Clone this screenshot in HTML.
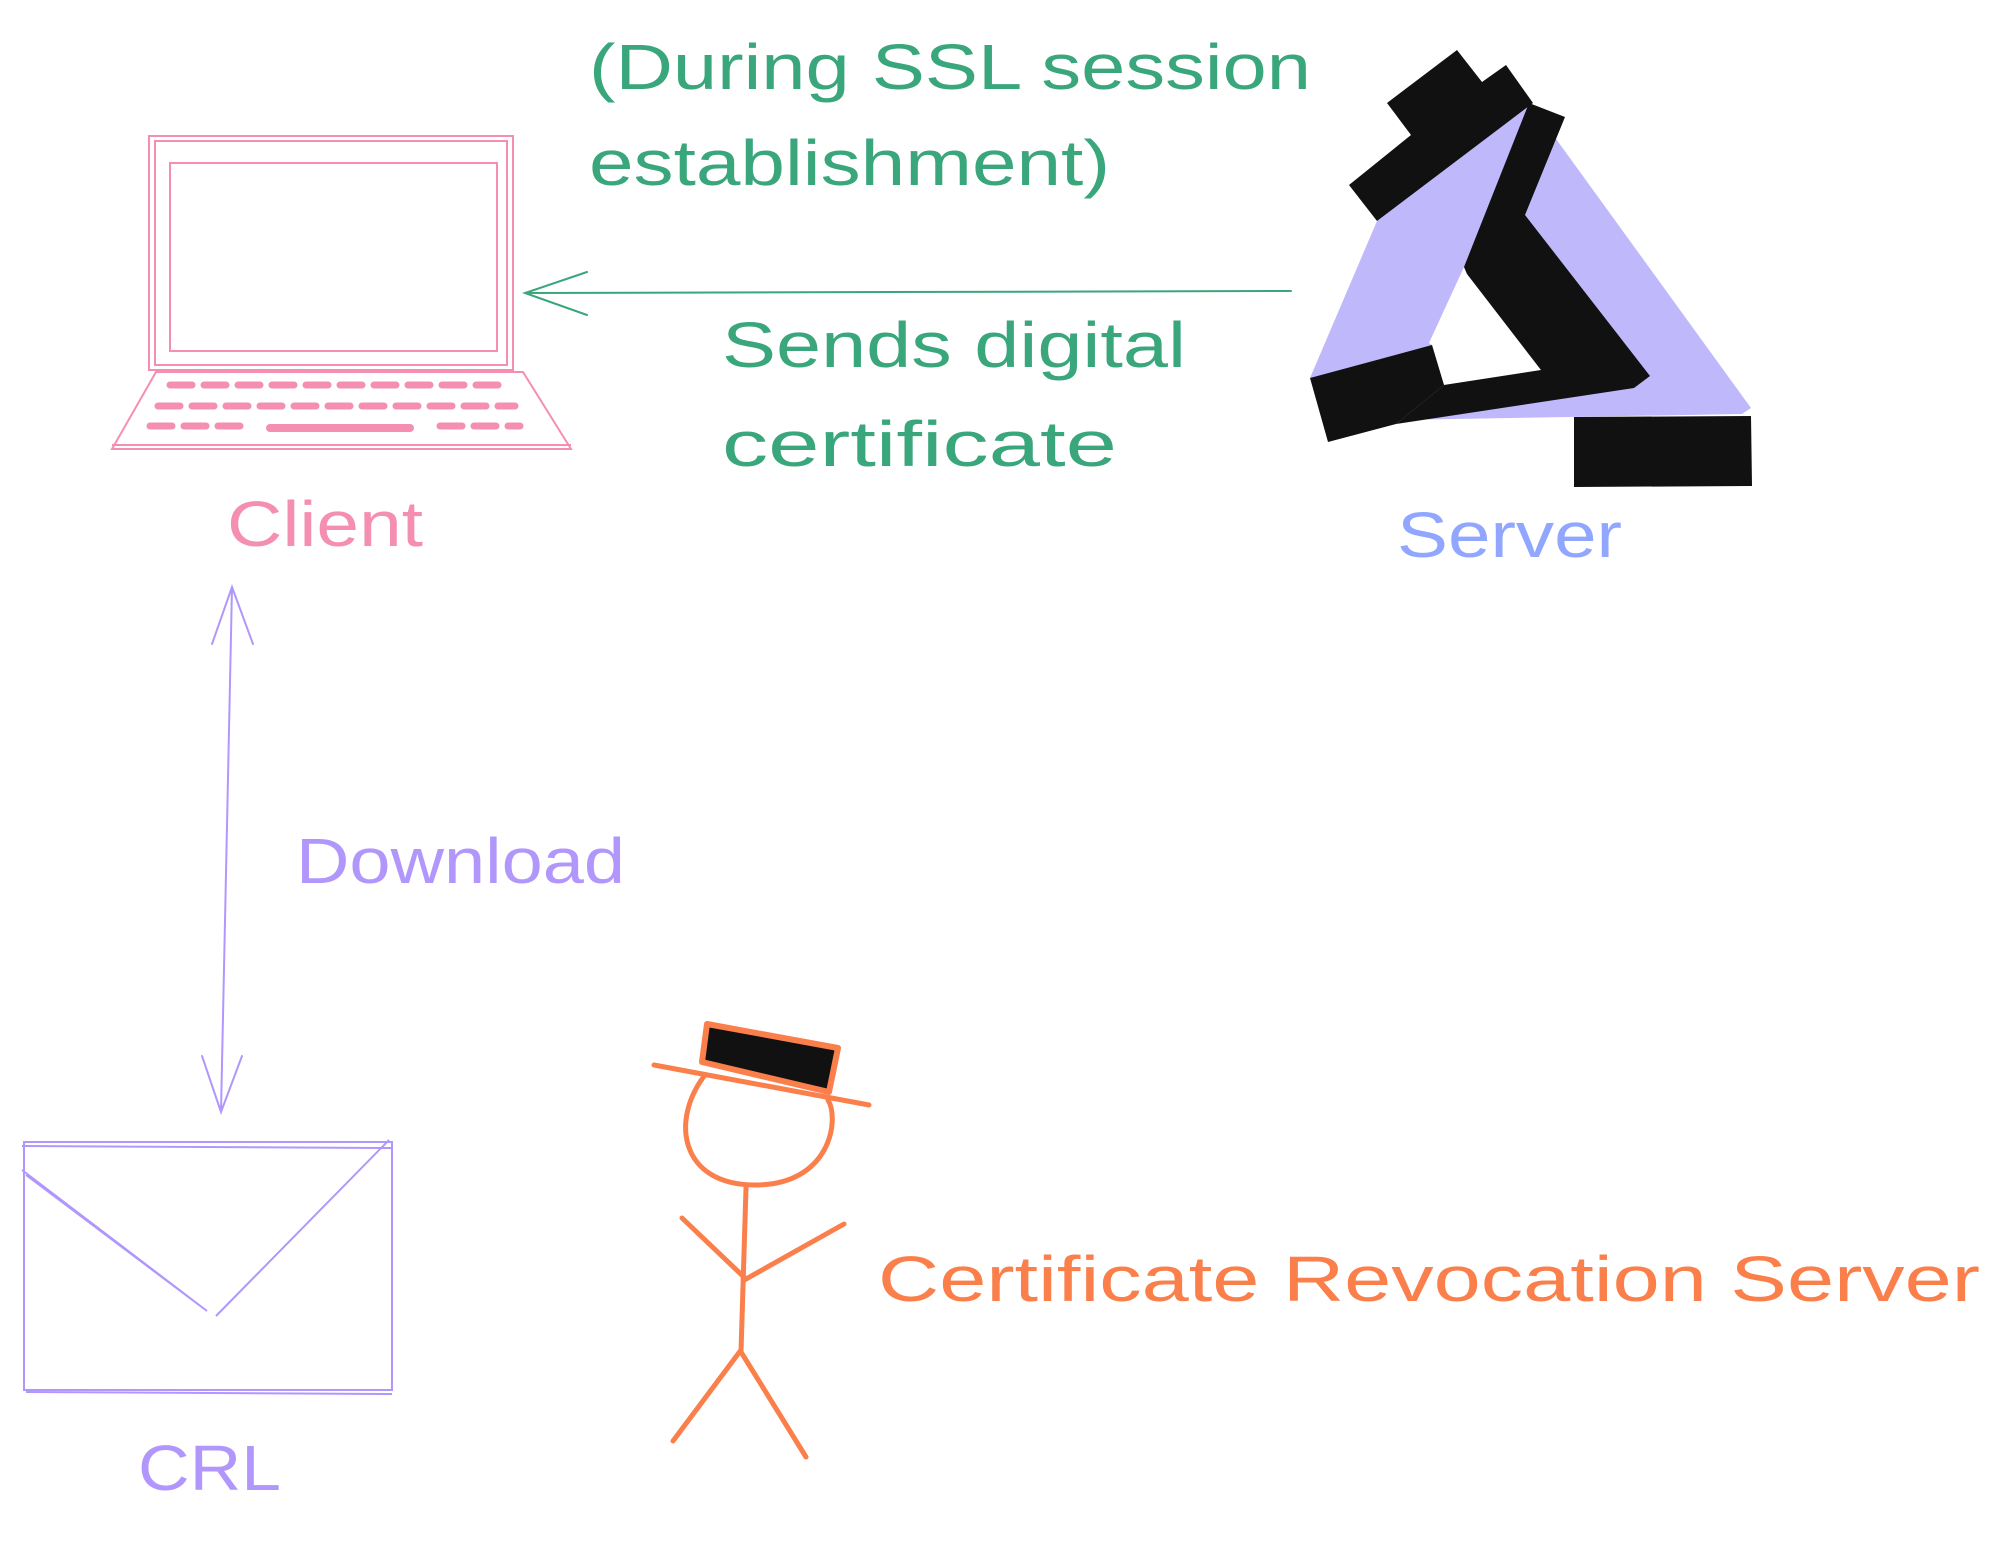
<!DOCTYPE html>
<html><head><meta charset="utf-8"><style>html,body{margin:0;padding:0;background:#fff}svg{display:block}text{font-family:"Liberation Sans",sans-serif;font-size:64px}</style></head>
<body>
<svg width="2000" height="1544" viewBox="0 0 2000 1544" xmlns="http://www.w3.org/2000/svg">
<rect width="2000" height="1544" fill="#fff"/>
<g fill="#3aa67b">
<text x="589" y="89" textLength="722" lengthAdjust="spacingAndGlyphs">(During SSL session</text>
<text x="589" y="185" textLength="521" lengthAdjust="spacingAndGlyphs">establishment)</text>
<text x="722" y="367" textLength="464" lengthAdjust="spacingAndGlyphs">Sends digital</text>
<text x="722" y="466" textLength="395" lengthAdjust="spacingAndGlyphs">certificate</text>
</g>
<g stroke="#3aa67b" stroke-width="2" fill="none" stroke-linecap="round">
<path d="M1291 291 L525 293 M587 272 L525 293 L587 315"/>
</g>
<g stroke="#f48fb1" stroke-width="2" fill="none">
<rect x="149" y="136" width="364" height="234"/>
<rect x="155" y="141" width="352" height="224"/>
<rect x="170" y="163" width="327" height="188"/>
<path d="M156 372 L523 372 L571 449 L112 449 Z"/>
<path d="M112 445 L571 445"/>
</g>
<g stroke="#f48fb1" stroke-width="7" stroke-linecap="round" stroke-dasharray="22 12">
<path d="M170 385 L500 385"/><path d="M158 406 L515 406"/><path d="M150 426 L245 426"/><path d="M440 426 L520 426"/>
</g>
<path d="M270 428 L410 428" stroke="#f48fb1" stroke-width="8" stroke-linecap="round"/>
<text x="227" y="546" fill="#f48fb1" textLength="196" lengthAdjust="spacingAndGlyphs">Client</text>
<polygon points="1530,103 1751,408 1742,414 1396,420 1310,378 1377,221" fill="#bfb9fc"/>
<polygon points="1464,267 1467,274 1541,370 1444,385 1432,345 1429,343" fill="#fff"/>
<polygon points="1457,50 1482,82 1506,65 1533,103 1377,221 1349,185 1411,135 1387,103" fill="#111"/>
<polygon points="1529,103 1565,117 1525,215 1650,376 1634,388 1396,424 1444,385 1541,370 1467,274 1464,267" fill="#111"/>
<polygon points="1310,378 1432,345 1444,385 1396,424 1328,442" fill="#111"/>
<polygon points="1574,417 1751,416 1752,486 1574,487" fill="#111"/>
<text x="1397" y="557" fill="#91a7ff" textLength="225" lengthAdjust="spacingAndGlyphs">Server</text>
<g stroke="#b197fc" stroke-width="2" fill="none" stroke-linecap="round">
<path d="M232 587 L221 1112 M212 644 L232 587 L253 644 M202 1056 L221 1112 L242 1056"/>
</g>
<text x="296" y="883" fill="#b197fc" textLength="329" lengthAdjust="spacingAndGlyphs">Download</text>
<g stroke="#b197fc" stroke-width="2" fill="none">
<rect x="24" y="1142" width="368" height="248"/>
<path d="M22 1146 L392 1148 M26 1392 L392 1394"/>
<path d="M22 1170 L207 1311 M26 1175 L203 1308"/>
<path d="M216 1316 L389 1140"/>
</g>
<text x="138" y="1490" fill="#b197fc" textLength="143" lengthAdjust="spacingAndGlyphs">CRL</text>
<polygon points="707,1024 838,1048 829,1092 702,1062" fill="#111" stroke="#fa7f4a" stroke-width="6" stroke-linejoin="round"/>
<g stroke="#fa7f4a" stroke-width="5" fill="none" stroke-linecap="round">
<path d="M654 1065 L869 1105"/>
<path d="M705 1075 C 670 1120, 680 1185, 755 1185 C 830 1185, 840 1120, 828 1100"/>
<path d="M746 1188 L741 1352"/>
<path d="M682 1218 L746 1279 L844 1224"/>
<path d="M741 1350 L673 1441 M741 1352 L806 1457"/>
</g>
<text x="878" y="1301" fill="#fa7f4a" textLength="1102" lengthAdjust="spacingAndGlyphs">Certificate Revocation Server</text>
</svg>
</body></html>
